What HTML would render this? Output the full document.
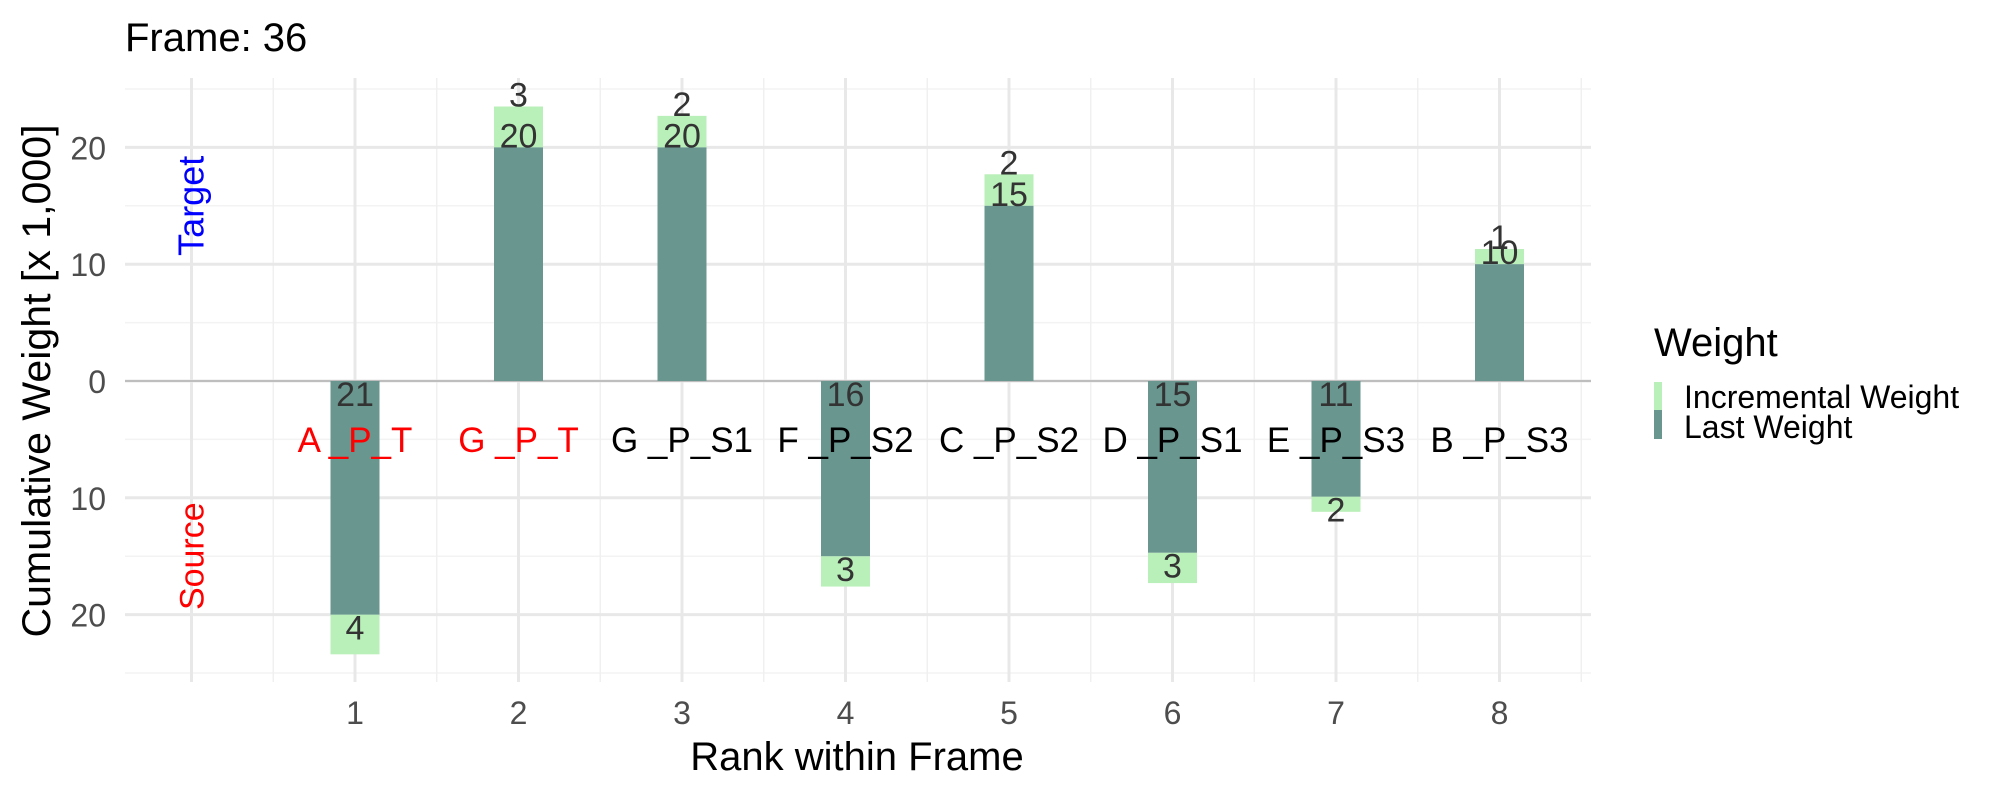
<!DOCTYPE html>
<html><head><meta charset="utf-8"><style>
html,body{margin:0;padding:0;background:#fff}
svg{display:block;font-family:"Liberation Sans",sans-serif}
</style></head><body>
<svg id="chart" width="2000" height="800" viewBox="0 0 2000 800" xmlns="http://www.w3.org/2000/svg">
<g id="grid"></g>
<g id="bars"></g>
<g id="labels"></g>
<text x="125" y="51" font-size="40" fill="#000">Frame: 36</text>
<text x="857" y="770" font-size="40" fill="#000" text-anchor="middle">Rank within Frame</text>
<text transform="translate(50,381) rotate(-90)" font-size="40" fill="#000" text-anchor="middle" textLength="513" lengthAdjust="spacingAndGlyphs">Cumulative Weight [x 1,000]</text>
<g>
<text x="1654" y="356" font-size="40" fill="#000">Weight</text>
<rect x="1654" y="382" width="8" height="28" fill="#b9efb9"/>
<rect x="1654" y="410" width="8" height="29" fill="#69968f"/>
<text x="1684" y="408" font-size="32" fill="#000">Incremental Weight</text>
<text x="1684" y="438" font-size="32" fill="#000">Last Weight</text>
</g>
</svg>
<script>
const ranks = [1,2,3,4,5,6,7,8];
const names = ["A _P_T","G _P_T","G _P_S1","F _P_S2","C _P_S2","D _P_S1","E _P_S3","B _P_S3"];
const nameColors = ["#ff0000","#ff0000","#000","#000","#000","#000","#000","#000"];
const direction = [-1,1,1,-1,1,-1,-1,1];
const lastWeight = [20,20,20,15,15,14.7,9.9,10];
const totalWeight = [23.4,23.5,22.7,17.6,17.7,17.3,11.2,11.3];
const lastLabel = ["21","20","20","16","15","15","11","10"];
const incLabel = ["4","3","2","3","2","3","2","1"];
const yMajor = [-20,-10,0,10,20];
const yMinor = [-25,-15,-5,5,15,25];
const yTickLabels = ["20","10","0","10","20"];
const xMajor = [0,1,2,3,4,5,6,7,8];
const xMinor = [0.5,1.5,2.5,3.5,4.5,5.5,6.5,7.5,8.5];

const NS="http://www.w3.org/2000/svg";
const X = v => 355 + (v-1)*163.5;
const Y = v => 381 - v*11.68;
const PL=125, PR=1591, PT=78, PB=682, BW=49;
function mk(tag, attrs, parent){const e=document.createElementNS(NS,tag);for(const k in attrs)e.setAttribute(k,attrs[k]);parent.appendChild(e);return e;}
const grid=document.getElementById('grid'), bars=document.getElementById('bars'), labels=document.getElementById('labels');

yMinor.forEach(v=>{const l=mk('line',{x1:PL,x2:PR,y1:Y(v),y2:Y(v),stroke:'#f3f3f3','stroke-width':1.5},grid);

});
xMinor.forEach(v=>{const l=mk('line',{x1:X(v),x2:X(v),y1:PT,y2:PB,stroke:'#f0f0f0','stroke-width':1.5},grid);

});
yMajor.forEach((v,i)=>{const l=mk('line',{x1:PL,x2:PR,y1:Y(v),y2:Y(v),stroke:'#e8e8e8','stroke-width':3},grid);


const t=mk('text',{x:106,y:Y(v)+12,'font-size':32,fill:'#4d4d4d','text-anchor':'end'},grid);
t.textContent=yTickLabels[i];

});
xMajor.forEach(v=>{const l=mk('line',{x1:X(v),x2:X(v),y1:PT,y2:PB,stroke:'#e8e8e8','stroke-width':3},grid);


if(v>0){const t=mk('text',{x:X(v),y:724,'font-size':32,fill:'#4d4d4d','text-anchor':'middle'},grid);
t.textContent=String(v);

}});
const z=mk('line',{x1:PL,x2:PR,y1:Y(0),y2:Y(0),stroke:'#b0b0b0','stroke-width':1.5},grid);



ranks.forEach((r,i)=>{
 const d=direction[i], x=X(r)-BW/2;
 const lt=Y(d*lastWeight[i]), tt=Y(d*totalWeight[i]), y0=Y(0);
 const inc=mk('rect',{x:x,width:BW,y:Math.min(lt,tt),height:Math.abs(tt-lt),fill:'#b9efb9'},bars);
 
 
 const last=mk('rect',{x:x,width:BW,y:Math.min(lt,y0),height:Math.abs(lt-y0),fill:'#69968f'},bars);
 
 
 let a,b;
 if(d>0){a=lt;b=tt;}else{a=y0+25;b=lt+25;}
 const t1=mk('text',{x:X(r),y:a,'font-size':34,fill:'#333','text-anchor':'middle'},labels);
 t1.textContent=lastLabel[i];
 
 
 const t2=mk('text',{x:X(r),y:b,'font-size':34,fill:'#333','text-anchor':'middle'},labels);
 t2.textContent=incLabel[i];
 
 
 const n=mk('text',{x:X(r),y:Y(-5)+12.5,'font-size':35,fill:nameColors[i],'text-anchor':'middle'},labels);
 n.textContent=names[i];
 
 
});
const tg=mk('text',{transform:`translate(${X(0)+12},${Y(15)}) rotate(-90)`,'font-size':36,fill:'#0000ff','text-anchor':'middle'},labels);
tg.textContent='Target';


const sr=mk('text',{transform:`translate(${X(0)+12},${Y(-15)}) rotate(-90)`,'font-size':34,fill:'#ff0000','text-anchor':'middle'},labels);
sr.textContent='Source';


</script>
</body></html>
